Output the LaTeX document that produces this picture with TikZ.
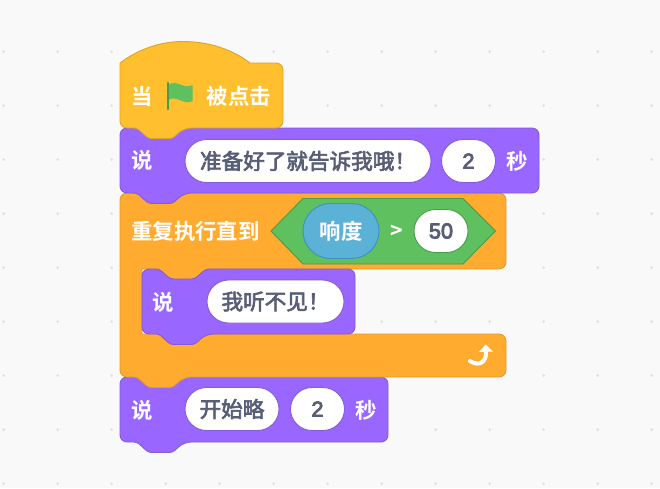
\documentclass[tikz,border=0pt]{standalone}
\usepackage{fontspec}
\usepackage{xcolor}
\newfontfamily\cjk[BoldFont={Noto Sans CJK SC Bold}]{Noto Sans CJK SC}
\newfontfamily\cjkmid[FakeBold=3]{Noto Sans CJK SC}
\newfontfamily\digits[FakeBold=4]{Liberation Sans}
\usetikzlibrary{shapes.misc}
\definecolor{looks}{HTML}{9966FF}
\definecolor{looksline}{HTML}{855CD6}
\definecolor{hatfill}{HTML}{FFBF2E}
\definecolor{hatline}{HTML}{D9A52E}
\definecolor{ctrlfill}{HTML}{FFAB2F}
\definecolor{ctrlline}{HTML}{DE9A34}
\definecolor{opfill}{HTML}{5FC05F}
\definecolor{opline}{HTML}{499C49}
\definecolor{sensefill}{HTML}{5CB1D6}
\definecolor{senseline}{HTML}{3F8FC0}
\definecolor{fieldtext}{HTML}{575E75}
\tikzstyle{looksblock} = [draw=looksline,fill=looks,line width=0.9pt,line join=round,rounded corners=7pt]
\tikzstyle{hatblock} = [draw=hatline,fill=hatfill,line width=0.9pt,line join=round,rounded corners=7pt]
\tikzstyle{ctrlblock} = [draw=ctrlline,fill=ctrlfill,line width=0.9pt,line join=round,rounded corners=7pt]
\tikzstyle{label} = [text=white,font=\cjk\bfseries\fontsize{21.4}{21.4}\selectfont,inner sep=0pt]
\tikzstyle{field} = [rounded rectangle,draw=looksline,fill=white,line width=0.9pt,
    text=fieldtext,font=\cjkmid\fontsize{21.6}{21.6}\selectfont,inner sep=0pt,minimum height=43pt]
\tikzstyle{griddot} = [fill=black!13,draw=none]
% tab under a block, right to left, #1 is the block's left side
\newcommand{\tabedge}[2]{-- (#1+64,#2) [rounded corners=3pt] -- (#1+52.5,#2+10.5) -- (#1+28.5,#2+10.5)
    -- (#1+17,#2) [rounded corners=7pt]}
\begin{document}
\begin{tikzpicture}[x=1pt,y=-1pt]
    \fill[white!97.5!black] (0,0) rectangle (660,488);
    \useasboundingbox (0,0) rectangle (660,488);
    \foreach \i in {0,...,12}
        \foreach \j in {0,...,9}
            \fill[griddot] ({3.7+54*\i},{-2.4+54*\j}) circle (1.4pt);

    % last say block
    \draw[looksblock] (120,377) -- (388,377) -- (388,442) \tabedge{120}{442} -- (120,442) -- cycle;
    % loop
    \draw[ctrlblock] (120,193) -- (506,193) -- (506,269) \tabedge{142}{269} [sharp corners] -- (142,269)
        -- (142,334) [rounded corners=7pt] -- (506,334) -- (506,377) \tabedge{120}{377} -- (120,377) -- cycle;
    % inner say block
    \draw[looksblock] (142,269) [rounded corners=3pt] -- (159,269) -- (170.5,279) -- (194.5,279) -- (206,269)
        [rounded corners=7pt] -- (355,269) -- (355,334) \tabedge{142}{334} -- (142,334) -- cycle;
    % first say block
    \draw[looksblock] (120,128) -- (539,128) -- (539,193) \tabedge{120}{193} -- (120,193) -- cycle;
    % hat
    \draw[hatblock] (120,63) [sharp corners] .. controls (140,48) and (162,41.5) .. (183,41.5)
        .. controls (208,41.5) and (232,49) .. (250,63) [rounded corners=7pt] -- (283,63) -- (283,128)
        \tabedge{120}{128} -- (120,128) -- (120,63);

    \node[label] (when) at (142,96) {当};
    \draw[opline,line width=2.4pt,line cap=round] (168,83) -- (168,109);
    \fill[opfill] (169,84.5) .. controls (177,79) and (184,90) .. (192.5,85) -- (192.5,101)
        .. controls (184,106) and (177,95) .. (169,99.5) -- cycle;
    \node[label] (clicked) at (238.7,96) {被点击};

    \node[label] (sayone) at (142,160.5) {说};
    \node[field,minimum width=246pt] (ready) at (308,161) {准备好了就告诉我哦！};
    \node[field,minimum width=54pt] (secone) at (468.5,161) {\digits 2};
    \node[label] (unitone) at (517,161) {秒};

    \node[label] (until) at (195.5,231) {重复执行直到};
    \draw[draw=opline,fill=opfill,line width=0.9pt,line join=round] (271,231) -- (303,198.5)
        -- (463,198.5) -- (495.5,231) -- (463,264) -- (303,264) -- cycle;
    \node[rounded rectangle,draw=senseline,fill=sensefill,line width=0.9pt,minimum width=76pt,
        minimum height=55pt,inner sep=0pt,text=white,font=\cjk\bfseries\fontsize{21.4}{21.4}\selectfont]
        (loud) at (341,231) {响度};
    \node[label] (gt) at (396.5,232) {>};
    \node[field,draw=opline,minimum width=54pt] (fifty) at (441,231) {\digits 50};

    \node[label] (saytwo) at (163.5,302) {说};
    \node[field,minimum width=137pt] (cannot) at (275.5,301.5) {我听不见！};

    \draw[white,line width=4pt,line cap=round] (470,361) .. controls (479,367) and (487,362) .. (486,351);
    \fill[white] (479,352) -- (485.7,344.5) -- (493,351.5) -- cycle;

    \node[label] (saythree) at (142,410) {说};
    \node[field,minimum width=94pt] (start) at (232,409) {开始略};
    \node[field,minimum width=54pt] (secthree) at (317.5,409) {\digits 2};
    \node[label] (unitthree) at (365.7,410) {秒};
\end{tikzpicture}
\end{document}
